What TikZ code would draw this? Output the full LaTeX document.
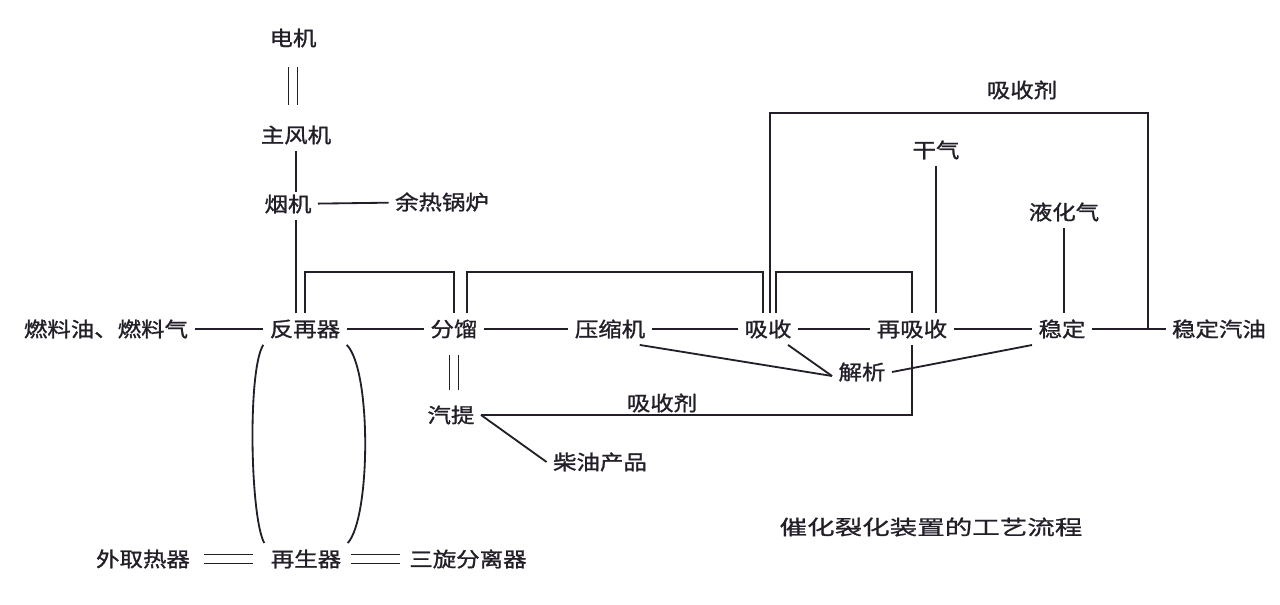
\documentclass[tikz,border=0pt]{standalone}
\usepackage{fontspec}
\setmainfont{Noto Sans CJK SC}[FakeStretch=1.15, FakeBold=1.2]
\newfontfamily\capfont{Noto Sans CJK SC}[FakeStretch=1.35, FakeBold=.8]
\usetikzlibrary{calc}
\definecolor{ink}{RGB}{35,30,40}
\begin{document}
\begin{tikzpicture}[x=0.025cm, y=0.025cm, line width=1.3pt, ink,
        unit/.style={inner sep=4pt, text=ink, font=\fontsize{14.5pt}{16pt}\selectfont},
        dbl/.style={double, double distance=1.8mm, line width=.9pt},
        ]
        \fill[white] (0,0) rectangle (1280,604);
        \useasboundingbox (0,0) rectangle (1280,604);

        \node[unit] (dj) at (293,566) {电机};
        \node[unit] (zfj) at (296,469) {主风机};
        \node[unit] (yj) at (288,400) {烟机};
        \node[unit] (yrgl) at (442,402) {余热锅炉};
        \node[unit] (rlq) at (106,275) {燃料油、燃料气};
        \node[unit] (fzq) at (305,275) {反再器};
        \node[unit] (fl) at (454,275) {分馏};
        \node[unit] (qt) at (451,189) {汽提};
        \node[unit] (cy) at (600,142) {柴油产品};
        \node[unit] (ysj) at (610,275) {压缩机};
        \node[unit] (xs) at (768,275) {吸收};
        \node[unit] (zxs) at (912,275) {再吸收};
        \node[unit] (wd) at (1062,275) {稳定};
        \node[unit] (wdqy) at (1219,275) {稳定汽油};
        \node[unit] (jx) at (862,232) {解析};
        \node[unit] (gq) at (936,454) {干气};
        \node[unit] (yhq) at (1064,392) {液化气};
        \node[unit] (xsjtop) at (1022,514) {吸收剂};
        \node[unit] (xsjlow) at (662,201) {吸收剂};
        \node[unit] (wqr) at (143,45) {外取热器};
        \node[unit] (zsq) at (306,45) {再生器};
        \node[unit] (sx) at (468,45) {三旋分离器};
        \node[unit, font=\capfont\fontsize{14.5pt}{16pt}\selectfont] (title) at (931,77) {催化裂化装置的工艺流程};

        \coordinate (tee) at ($(wd.east)!.76!(wdqy.west)$);

        \draw[dbl, shorten <=.33cm, shorten >=.35cm] (dj.south) -- (dj.south |- zfj.north);
        \draw (zfj.south) -- ([yshift=-.1cm]zfj.south |- yj.north);
        \draw (yj) -- (yrgl);
        \draw (yj.south -| zfj.south) -- (zfj.south |- fzq.north);

        \foreach \a/\b in {rlq/fzq, fzq/fl, fl/ysj, ysj/xs, xs/zxs, zxs/wd, wd/wdqy}
            \draw (\a) -- (\b);

        \draw (fzq.north) -- ++(0,41) -| (fl.north);
        \draw ([xshift=.33cm]fl.north) -- ++(0,41) -| ([xshift=-.13cm]xs.north);
        \draw ([xshift=.2cm]xs.north) -- ++(0,41) -| (zxs.north);
        \draw ([xshift=.05cm]xs.north) |- ([yshift=5.4cm]tee) -- (tee);
        \draw (gq.south) -- (gq.south |- zxs.north);
        \draw (yhq.south) -- (yhq.south |- wd.north);

        \draw ([xshift=-.3cm]ysj.south east) -- ([yshift=-.1cm]jx.west);
        \draw ([xshift=-.25cm]xs.south east) -- ([yshift=-.1cm]jx.west);
        \draw (jx.east) -- (wd.south west);
        \draw (zxs.south) |- (qt.east);
        \draw (qt.east) -- (cy.west);
        \draw[dbl, shorten <=.25cm, shorten >=.22cm] (fl.south) -- (fl.south |- qt.north);

        \draw (fzq.south west) .. controls +(-16,-25) and +(-14,25) .. (zsq.north west);
        \draw (fzq.south east) .. controls +(25,-25) and +(23,25) .. (zsq.north east);
        \draw[dbl, shorten <=.2cm, shorten >=.28cm] (wqr) -- (zsq);
        \draw[dbl, shorten <=.08cm, shorten >=.08cm] (zsq) -- (sx);
\end{tikzpicture}
\end{document}
